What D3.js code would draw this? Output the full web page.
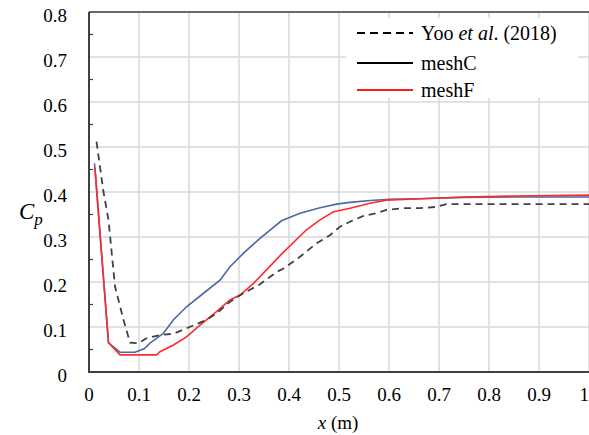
<!DOCTYPE html>
<html><head><meta charset="utf-8">
<script src="https://cdn.jsdelivr.net/npm/d3@7"></script>
<style>body{margin:0;background:#fff}svg{display:block}
svg text{font-family:"Liberation Serif","Times New Roman","DejaVu Serif",serif;}
</style>
</head><body>
<svg id="c" width="589" height="435"></svg>
<script>
const xTicks = [0,0.1,0.2,0.3,0.4,0.5,0.6,0.7,0.8,0.9,1];
const xTickLabels = ["0","0.1","0.2","0.3","0.4","0.5","0.6","0.7","0.8","0.9","1"];
const yTicks = [0,0.1,0.2,0.3,0.4,0.5,0.6,0.7,0.8];
const yTickLabels = ["0","0.1","0.2","0.3","0.4","0.5","0.6","0.7","0.8"];
const yMinorTicks = [0.05,0.15,0.25,0.35,0.45,0.55,0.65,0.75];

const yooX  = [0.015,0.029,0.039,0.052,0.069,0.082,0.099,0.115,0.142,0.169,0.195,0.235,0.255,0.282,0.309,0.342,0.375,0.389,0.422,0.455,0.482,0.502,0.522,0.549,0.575,0.595,0.629,0.662,0.695,0.715,0.8,0.9,1.0];
const yooCp = [0.512,0.400,0.338,0.190,0.116,0.065,0.064,0.075,0.082,0.085,0.097,0.116,0.130,0.156,0.175,0.195,0.222,0.230,0.256,0.286,0.304,0.323,0.334,0.347,0.353,0.360,0.364,0.364,0.367,0.373,0.373,0.373,0.373];

const meshCX  = [0.011,0.039,0.062,0.092,0.111,0.122,0.149,0.169,0.195,0.229,0.262,0.282,0.309,0.342,0.385,0.422,0.462,0.495,0.522,0.562,0.602,0.662,0.75,0.85,1.0];
const meshCCp = [0.464,0.065,0.044,0.044,0.052,0.064,0.086,0.116,0.145,0.175,0.204,0.234,0.264,0.297,0.336,0.353,0.365,0.373,0.377,0.381,0.384,0.385,0.388,0.389,0.389];

const meshFX  = [0.012,0.039,0.062,0.092,0.135,0.142,0.169,0.195,0.222,0.255,0.282,0.302,0.329,0.355,0.385,0.435,0.462,0.489,0.522,0.562,0.595,0.662,0.75,0.85,1.0];
const meshFCp = [0.453,0.065,0.038,0.038,0.038,0.045,0.060,0.078,0.104,0.134,0.160,0.171,0.197,0.227,0.262,0.316,0.338,0.356,0.364,0.375,0.382,0.385,0.389,0.391,0.393];

const svg = d3.select("#c");
const L = 89, R = 589, T = 12, B = 372;
const x = d3.scaleLinear().domain([0,1]).range([L,R]);
const y = d3.scaleLinear().domain([0,0.8]).range([B,T]);

// gridlines
svg.append("g").selectAll("line").data(xTicks.slice(1)).join("line")
  .attr("x1",d=>x(d)).attr("x2",d=>x(d)).attr("y1",T).attr("y2",B)
  .attr("stroke","#d9d9d9").attr("stroke-width",1.5);
svg.append("g").selectAll("line").data(yTicks.slice(1)).join("line")
  .attr("x1",L).attr("x2",R).attr("y1",d=>y(d)).attr("y2",d=>y(d))
  .attr("stroke","#d9d9d9").attr("stroke-width",1.5);

// series
const pts = (xs,ys)=>xs.map((v,i)=>[v,ys[i]]);
const line = d3.line().x(d=>x(d[0])).y(d=>y(d[1]));
svg.append("path").datum(pts(meshCX,meshCCp)).attr("d",line)
  .attr("fill","none").attr("stroke","#4a68a6").attr("stroke-width",1.6);
svg.append("path").datum(pts(meshFX,meshFCp)).attr("d",line)
  .attr("fill","none").attr("stroke","#ff2a2a").attr("stroke-width",1.6);
svg.append("path").datum(pts(yooX,yooCp)).attr("d",line)
  .attr("fill","none").attr("stroke","#404040").attr("stroke-width",1.8)
  .attr("stroke-dasharray","7,5");

// legend background
svg.append("rect").attr("x",346).attr("y",18).attr("width",232).attr("height",80).attr("fill","#fff");
const leg = [
  {color:"#000", dash:"8,5", y:33},
  {color:"#000", dash:null, y:63},
  {color:"#ff1a1a", dash:null, y:90}
];
leg.forEach(l=>{
  svg.append("line").attr("x1",357).attr("x2",413).attr("y1",l.y).attr("y2",l.y)
    .attr("stroke",l.color).attr("stroke-width",2.2).attr("stroke-dasharray",l.dash);
});
const t0 = svg.append("text").attr("x",421).attr("y",40).attr("font-size",20).attr("fill","#000");
t0.append("tspan").text("Yoo ");
t0.append("tspan").attr("font-style","italic").text("et al");
t0.append("tspan").text(". (2018)");
svg.append("text").attr("x",421).attr("y",70).attr("font-size",20).text("meshC");
svg.append("text").attr("x",421).attr("y",97).attr("font-size",20).text("meshF");

// axes lines
svg.append("line").attr("x1",L).attr("x2",R).attr("y1",T).attr("y2",T).attr("stroke","#404040").attr("stroke-width",1.5);
svg.append("line").attr("x1",L).attr("x2",L).attr("y1",T).attr("y2",B+1).attr("stroke","#404040").attr("stroke-width",2);
svg.append("line").attr("x1",L).attr("x2",R).attr("y1",B).attr("y2",B).attr("stroke","#404040").attr("stroke-width",2);

// minor ticks
svg.append("g").selectAll("line").data(yMinorTicks).join("line")
  .attr("x1",L).attr("x2",L+4).attr("y1",d=>y(d)).attr("y2",d=>y(d))
  .attr("stroke","#404040").attr("stroke-width",1.2);

// tick labels
svg.append("g").selectAll("text").data(yTicks).join("text")
  .attr("x",67).attr("y",d=>y(d)+10).attr("text-anchor","end")
  .attr("font-size",19).text((d,i)=>yTickLabels[i]);
svg.append("g").selectAll("text").data(xTicks).join("text")
  .attr("x",d=>x(d)).attr("y",401).attr("text-anchor",d=>d===1?"end":"middle")
  .attr("font-size",19).text((d,i)=>xTickLabels[i]);

// axis titles
const yt = svg.append("text").attr("x",19).attr("y",219).attr("font-size",23).attr("font-style","italic");
yt.append("tspan").text("C");
yt.append("tspan").attr("font-size",17).attr("dy",6).text("p");
const xt = svg.append("text").attr("x",338).attr("y",429).attr("text-anchor","middle").attr("font-size",19);
xt.append("tspan").attr("font-style","italic").text("x");
xt.append("tspan").text(" (m)");
</script>
</body></html>
